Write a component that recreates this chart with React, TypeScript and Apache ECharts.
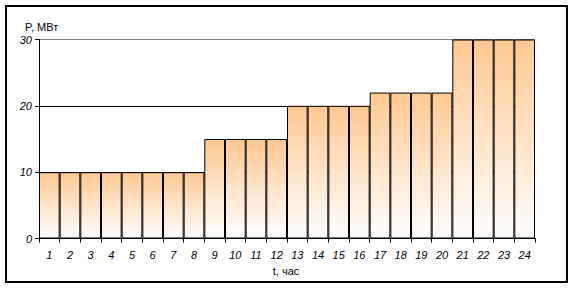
import React, { useEffect, useRef } from "react";
import * as echarts from "echarts";

const hours = ["1","2","3","4","5","6","7","8","9","10","11","12","13","14","15","16","17","18","19","20","21","22","23","24"];
const power = [10,10,10,10,10,10,10,10,15,15,15,15,20,20,20,20,22,22,22,22,30,30,30,30];
const yTicks = { min: 0, max: 30, interval: 10 };
const yName = "P, МВт";
const xName = "t, час";

export default function App() {
  const ref = useRef<HTMLDivElement>(null);
  useEffect(() => {
    if (!ref.current) return;
    const chart = echarts.init(ref.current, null, { renderer: "svg" });
    const font = "'Liberation Sans', Arial, sans-serif";
    chart.setOption({
      animation: false,
      backgroundColor: "#ffffff",
      grid: { left: 39, right: 40, top: 39.5, bottom: 49.5 },
      graphic: [
        {
          type: "rect",
          shape: { x: 6, y: 6, width: 561, height: 276 },
          style: { fill: "none", stroke: "#000", lineWidth: 2 },
          z: 0,
        },
        {
          type: "text",
          x: 25,
          y: 27,
          style: { text: yName, font: `11px ${font}`, fill: "#000", textVerticalAlign: "middle" },
        },
        {
          type: "text",
          x: 286,
          y: 271,
          style: { text: xName, font: `11px ${font}`, fill: "#000", textAlign: "center", textVerticalAlign: "middle" },
        },
      ],
      xAxis: {
        type: "category",
        data: hours,
        boundaryGap: true,
        axisLine: { lineStyle: { color: "#000", width: 1 } },
        axisTick: { show: true, length: 4, lineStyle: { color: "#000" }, interval: 0 },
        axisLabel: { interval: 0, fontStyle: "italic", fontSize: 11, fontFamily: font, color: "#000", margin: 11 },
        splitLine: { show: false },
      },
      yAxis: {
        type: "value",
        min: yTicks.min,
        max: yTicks.max,
        interval: yTicks.interval,
        axisLine: { show: true, lineStyle: { color: "#000", width: 1 } },
        axisTick: { show: true, length: 4, lineStyle: { color: "#000" } },
        axisLabel: { fontStyle: "italic", fontSize: 11, fontFamily: font, color: "#000", margin: 7 },
        splitLine: { show: true, lineStyle: { color: ["#000", "#000", "#000", "#808080"], width: 1 } },
      },
      series: [
        {
          type: "bar",
          data: power,
          barCategoryGap: "0%",
          itemStyle: {
            borderColor: "#000",
            borderWidth: 1,
            color: new echarts.graphic.LinearGradient(0, 0, 0, 1, [
              { offset: 0, color: "#FFC891" },
              { offset: 1, color: "#FFFFFF" },
            ]),
          },
        },
      ],
    });
    return () => chart.dispose();
  }, []);
  return <div ref={ref} style={{ position: "fixed", left: 0, top: 0, width: 575, height: 288 }} />;
}
